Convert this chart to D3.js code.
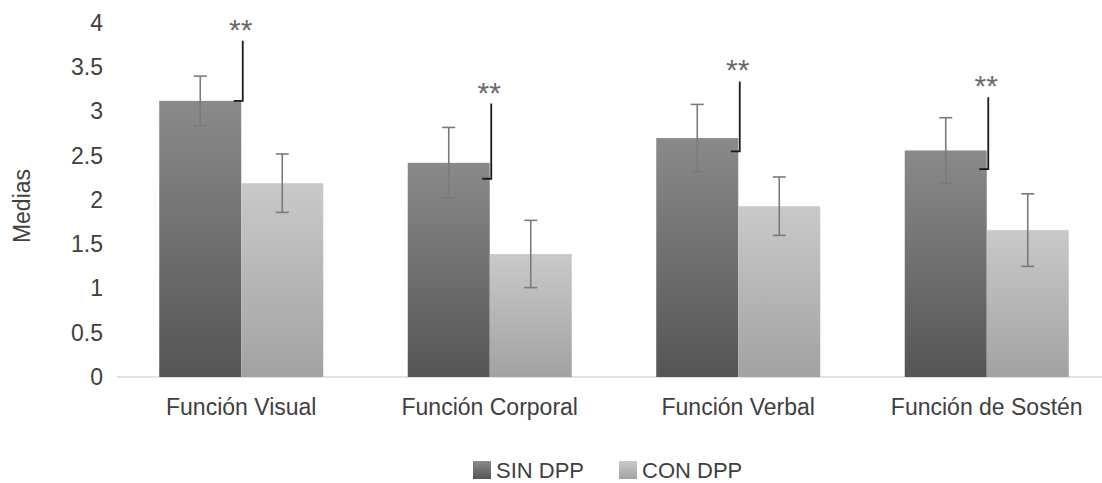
<!DOCTYPE html>
<html><head><meta charset="utf-8">
<script src="https://cdn.jsdelivr.net/npm/d3@7/dist/d3.min.js"></script>
<style>
body{margin:0;background:#fff;}
svg text{font-family:"Liberation Sans",Arial,sans-serif;}
</style></head>
<body><svg id="chart" width="1102" height="483"></svg>
<script>
const categories = ["Función Visual","Función Corporal","Función Verbal","Función de Sostén"];
const seriesNames = ["SIN DPP","CON DPP"];
const sinValues = [3.12, 2.42, 2.70, 2.56];
const sinErrors = [0.28, 0.40, 0.38, 0.37];
const conValues = [2.19, 1.39, 1.93, 1.66];
const conErrors = [0.33, 0.38, 0.33, 0.41];
const bracketTop = [3.80, 3.09, 3.34, 3.16];
const bracketBottom = [3.12, 2.24, 2.55, 2.35];
const sigLabels = ["**","**","**","**"];
const yTicks = [0,0.5,1,1.5,2,2.5,3,3.5,4];

const svg = d3.select("#chart");
const W = 1102, H = 483;
const x = d3.scaleBand().domain(categories).range([117, 1111]).paddingInner(0.34).paddingOuter(0.17);
const xs = d3.scaleBand().domain(seriesNames).range([0, x.bandwidth()]);
const y = d3.scaleLinear().domain([0,4]).range([377, 23]);

const defs = svg.append("defs");
function grad(id, top, bottom){
  const g = defs.append("linearGradient").attr("id", id).attr("x1",0).attr("y1",0).attr("x2",0).attr("y2",1);
  g.append("stop").attr("offset","0%").attr("stop-color", top);
  g.append("stop").attr("offset","100%").attr("stop-color", bottom);
}
grad("gSin", "#8a8a8a", "#555555");
grad("gCon", "#c9c9c9", "#a2a2a2");
const fills = {"SIN DPP":"url(#gSin)","CON DPP":"url(#gCon)"};

// y axis labels
const yAxis = d3.axisLeft(y).tickValues(yTicks).tickSize(0).tickPadding(0).tickFormat(d3.format("~g"));
const ya = svg.append("g").attr("transform","translate(103,0)").call(yAxis);
ya.select(".domain").remove();
ya.selectAll("text").attr("font-size",23).attr("fill","#404040").attr("font-family","'Liberation Sans',Arial,sans-serif");

// baseline
svg.append("line").attr("x1",117).attr("x2",W).attr("y1",y(0)).attr("y2",y(0)).attr("stroke","#d9d9d9").attr("stroke-width",1.5);

const data = categories.map((c,i)=>({cat:c, vals:[
  {s:"SIN DPP", v:sinValues[i], e:sinErrors[i]},
  {s:"CON DPP", v:conValues[i], e:conErrors[i]}]}));

const grp = svg.selectAll("g.grp").data(data).join("g").attr("class","grp")
  .attr("transform", d=>`translate(${x(d.cat)},0)`);
grp.selectAll("rect").data(d=>d.vals).join("rect")
  .attr("x", d=>xs(d.s)).attr("width", xs.bandwidth())
  .attr("y", d=>y(d.v)).attr("height", d=>y(0)-y(d.v))
  .attr("fill", d=>fills[d.s]);
// error bars
const eb = grp.selectAll("g.eb").data(d=>d.vals).join("g").attr("class","eb");
eb.append("line").attr("x1", d=>xs(d.s)+xs.bandwidth()/2).attr("x2", d=>xs(d.s)+xs.bandwidth()/2)
  .attr("y1", d=>y(d.v+d.e)).attr("y2", d=>y(d.v-d.e)).attr("stroke","#7a7a7a").attr("stroke-width",1.6);
[1,-1].forEach(sg=>{
  eb.append("line").attr("x1", d=>xs(d.s)+xs.bandwidth()/2-6.5).attr("x2", d=>xs(d.s)+xs.bandwidth()/2+6.5)
    .attr("y1", d=>y(d.v+sg*d.e)).attr("y2", d=>y(d.v+sg*d.e)).attr("stroke","#7a7a7a").attr("stroke-width",1.6);
});

// significance brackets
categories.forEach((c,i)=>{
  const bx = x(c) + xs.bandwidth() + 1.5;
  svg.append("path")
    .attr("d", `M${bx},${y(bracketTop[i])}V${y(bracketBottom[i])}H${bx-9}`)
    .attr("fill","none").attr("stroke","#1a1a1a").attr("stroke-width",1.8);
  svg.append("text").attr("x", bx-2).attr("y", y(bracketTop[i])-1)
    .attr("text-anchor","middle").attr("font-size",30).attr("fill","#6a6a6a").text(sigLabels[i]);
});

// category labels
svg.selectAll("text.cat").data(categories).join("text").attr("class","cat")
  .attr("x", d=>x(d)+x.bandwidth()/2).attr("y", 415)
  .attr("text-anchor","middle").attr("font-size",23).attr("fill","#404040").text(d=>d);

// y title
svg.append("text").attr("transform","translate(30,206) rotate(-90)")
  .attr("text-anchor","middle").attr("font-size",23).attr("fill","#404040").text("Medias");

// legend
const legX = [473, 619];
seriesNames.forEach((s,i)=>{
  svg.append("rect").attr("x", legX[i]).attr("y", 461).attr("width",18).attr("height",18).attr("fill", fills[s]);
  svg.append("text").attr("x", legX[i]+23).attr("y", 478).attr("font-size",22).attr("fill","#404040").text(s);
});
</script></body></html>
